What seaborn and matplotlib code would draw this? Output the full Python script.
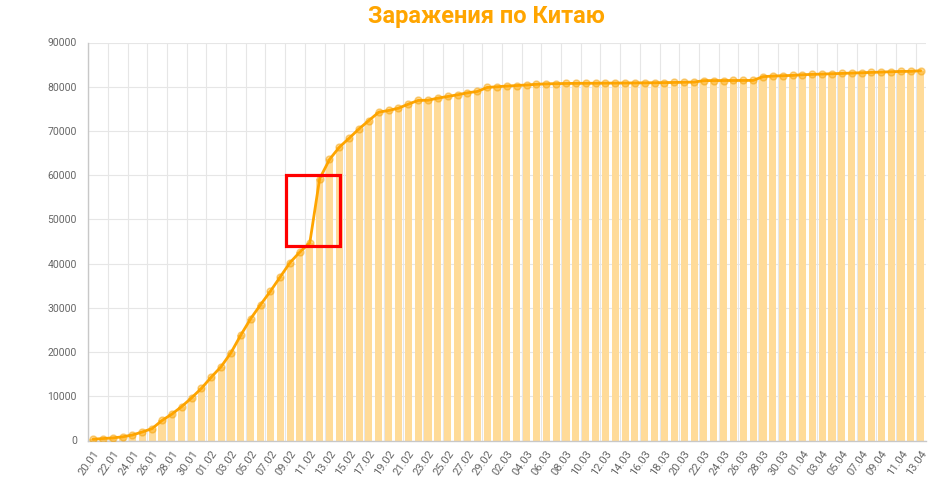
import numpy as np
import pandas as pd
import matplotlib
matplotlib.use("Agg")
import matplotlib.pyplot as plt
from matplotlib.patches import Rectangle
import seaborn as sns

dates = [
    "20.01", "21.01", "22.01", "23.01", "24.01", "25.01", "26.01", "27.01", "28.01", "29.01",
    "30.01", "31.01", "01.02", "02.02", "03.02", "04.02", "05.02", "06.02", "07.02", "08.02",
    "09.02", "10.02", "11.02", "12.02", "13.02", "14.02", "15.02", "16.02", "17.02", "18.02",
    "19.02", "20.02", "21.02", "22.02", "23.02", "24.02", "25.02", "26.02", "27.02", "28.02",
    "29.02", "01.03", "02.03", "03.03", "04.03", "05.03", "06.03", "07.03", "08.03", "09.03",
    "10.03", "11.03", "12.03", "13.03", "14.03", "15.03", "16.03", "17.03", "18.03", "19.03",
    "20.03", "21.03", "22.03", "23.03", "24.03", "25.03", "26.03", "27.03", "28.03", "29.03",
    "30.03", "31.03", "01.04", "02.04", "03.04", "04.04", "05.04", "06.04", "07.04", "08.04",
    "09.04", "10.04", "11.04", "12.04", "13.04",
]

cases = [
    291, 440, 590, 830, 1250, 1930, 2700, 4530, 5970, 7680,
    9640, 11790, 14330, 16700, 19850, 23850, 27550, 30700, 33750, 37000,
    40250, 42640, 44700, 59200, 63550, 66330, 68370, 70480, 72360, 74250,
    74630, 75150, 76060, 76900, 76950, 77420, 77800, 78180, 78630, 78930,
    79830, 80000, 80150, 80270, 80400, 80550, 80650, 80700, 80740, 80760,
    80780, 80790, 80810, 80820, 80840, 80860, 80880, 80900, 80930, 80970,
    81010, 81050, 81380, 81390, 81400, 81410, 81420, 81430, 82280, 82410,
    82490, 82560, 82710, 82790, 82860, 82940, 83010, 83090, 83160, 83240,
    83310, 83390, 83460, 83480, 83620,
]

title = "Заражения по Китаю"
y_ticks = [0, 10000, 20000, 30000, 40000, 50000, 60000, 70000, 80000, 90000]
# highlighted region (first/last category covered, value span)
box_dates = ("09.02", "14.02")
box_values = (44000, 60000)

ORANGE = "#FFA500"
BAR = "#FFDB99"
GRID = "#E6E6E6"
TEXT = "#666666"

df = pd.DataFrame({"date": dates, "cases": cases})
df["pos"] = np.arange(len(df))

sns.set_theme(style="white")
plt.rcParams["font.family"] = ["Roboto", "DejaVu Sans"]

fig = plt.figure(figsize=(9.44, 4.95), dpi=100)
ax = fig.add_axes([88.1 / 944, 1 - 440.5 / 495, 837.5 / 944, (440.5 - 42.5) / 495])

sns.barplot(data=df, x="date", y="cases", color=BAR, saturation=1, width=0.72,
            edgecolor="none", ax=ax, zorder=2)
sns.lineplot(data=df, x="pos", y="cases", color=ORANGE, linewidth=2.0, ax=ax,
             marker="o", markersize=5, markerfacecolor=(1.0, 0.65, 0.0, 0.45),
             markeredgecolor=(0.95, 0.62, 0.0, 0.45), markeredgewidth=1.0, zorder=3)

n = len(dates)
ax.set_xlim(-0.5, n - 0.5)
ax.set_ylim(0, 90000)
ax.set_yticks(y_ticks)
ax.set_yticklabels([str(v) for v in y_ticks])

# labels on every other category
lab_pos = np.arange(0, n, 2)
ax.set_xticks(lab_pos)
ax.set_xticklabels([dates[i] for i in lab_pos], rotation=55, ha="right",
                   rotation_mode="anchor")
ax.set_xticks(lab_pos - 0.5, minor=True)

ax.tick_params(axis="x", which="major", length=0, pad=6, labelsize=8, labelcolor=TEXT)
ax.tick_params(axis="x", which="minor", length=5, width=0.8, color=GRID)
ax.tick_params(axis="y", length=7, width=0.8, color="#D0D0D0", pad=1,
               labelsize=7.5, labelcolor=TEXT)

ax.grid(False)
for p in lab_pos - 0.5:
    ax.axvline(p, color=GRID, linewidth=0.8, zorder=0)
for v in y_ticks:
    ax.axhline(v, color=GRID, linewidth=0.8, zorder=0)

for s in ["top", "right"]:
    ax.spines[s].set_visible(False)
ax.spines["left"].set_color("#C8C8C8")
ax.spines["bottom"].set_color("#C8C8C8")
ax.spines["left"].set_linewidth(1.0)
ax.spines["bottom"].set_linewidth(1.0)
ax.set_xlabel("")
ax.set_ylabel("")

i0 = dates.index(box_dates[0]) - 0.4
i1 = dates.index(box_dates[1]) + 0.05
rect = Rectangle((i0, box_values[0]), i1 - i0, box_values[1] - box_values[0],
                 fill=False, edgecolor="#FF0000", linewidth=2.3, zorder=5)
ax.add_patch(rect)

fig.text(486 / 944, 1 - 16 / 495, title, ha="center", va="center",
         fontsize=17, fontweight="bold", color=ORANGE)

fig.savefig("out.png", dpi=100)
